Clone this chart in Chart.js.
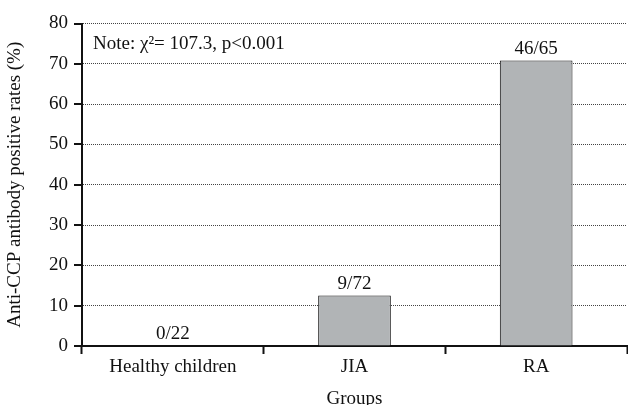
<!DOCTYPE html>
<html>
<head>
<meta charset="utf-8">
<script src="https://cdn.jsdelivr.net/npm/chart.js@4"></script>
<style>
  body { margin: 0; background: #fff; }
  #wrap { width: 628px; height: 405px; }
</style>
</head>
<body>
<div id="wrap"><canvas id="chart" width="628" height="405"></canvas></div>
<script>
const groups = ['Healthy children', 'JIA', 'RA']
const rates = [0, 12.5, 70.8]
const counts = ['0/22', '9/72', '46/65']
const yTicks = [0, 10, 20, 30, 40, 50, 60, 70, 80]
const note = 'Note: \u03C7\u00B2= 107.3, p<0.001'

const serif = "'Liberation Serif', 'DejaVu Serif', serif"
const fontSize = 19

// value labels over the bars + the note in the top left corner
const labelPlugin = {
  id: 'barLabels',
  afterDatasetsDraw(chart) {
    const ctx = chart.ctx
    const meta = chart.getDatasetMeta(0)
    ctx.save()
    ctx.fillStyle = '#111'
    ctx.font = fontSize + 'px ' + serif
    ctx.textAlign = 'center'
    ctx.textBaseline = 'bottom'
    meta.data.forEach((bar, i) => {
      ctx.fillText(counts[i], bar.x, bar.y - 2)
    })
    ctx.textAlign = 'left'
    ctx.textBaseline = 'middle'
    ctx.fillText(note, chart.chartArea.left + 11, 44)
    ctx.restore()
  }
}

const config = {
  type: 'bar',
  data: {
    labels: groups,
    datasets: [{
      data: rates,
      backgroundColor: '#b1b4b6',
      borderColor: '#111',
      borderWidth: 1,
      categoryPercentage: 0.8,
      barPercentage: 0.5
    }]
  },
  options: {
    responsive: false,
    animation: false,
    layout: {
      padding: { top: 0, right: 1, bottom: 0, left: 0 }
    },
    plugins: {
      legend: { display: false },
      tooltip: { enabled: false }
    },
    scales: {
      x: {
        grid: {
          display: true,
          offset: true,
          drawOnChartArea: false,
          drawTicks: true,
          tickLength: 8,
          tickWidth: 2,
          color: '#111'
        },
        border: { color: '#111', width: 2 },
        ticks: {
          color: '#111',
          padding: 2,
          font: { family: serif, size: fontSize }
        },
        title: {
          display: true,
          text: 'Groups',
          color: '#111',
          padding: { top: 9, bottom: -5 },
          font: { family: serif, size: fontSize }
        },
        afterFit(scale) { scale.height = 59 }
      },
      y: {
        min: 0,
        max: 80,
        afterBuildTicks(scale) {
          scale.ticks = yTicks.map(v => ({ value: v }))
        },
        grid: {
          color: '#444',
          lineWidth: 1,
          drawTicks: false
        },
        border: { color: '#111', width: 2, dash: [1, 1] },
        ticks: {
          color: '#111',
          padding: 14,
          font: { family: serif, size: fontSize, lineHeight: 1 }
        },
        title: {
          display: true,
          text: 'Anti-CCP antibody positive rates (%)',
          color: '#111',
          padding: { top: 4, bottom: 0 },
          font: { family: serif, size: fontSize }
        },
        afterFit(scale) { scale.width = 82 }
      }
    }
  },
  plugins: [labelPlugin, {
    // small tick marks left of the y axis
    id: 'yTickMarks',
    afterDraw(chart) {
      const ctx = chart.ctx
      const y = chart.scales.y
      ctx.save()
      ctx.strokeStyle = '#111'
      ctx.lineWidth = 2
      yTicks.forEach(v => {
        const py = Math.round(y.getPixelForValue(v))
        ctx.beginPath()
        ctx.moveTo(y.right - 8, py)
        ctx.lineTo(y.right, py)
        ctx.stroke()
      })
      ctx.restore()
    }
  }]
}

const chartElement = document.getElementById('chart').getContext('2d')
const chart = new Chart(chartElement, config)
</script>
</body>
</html>
